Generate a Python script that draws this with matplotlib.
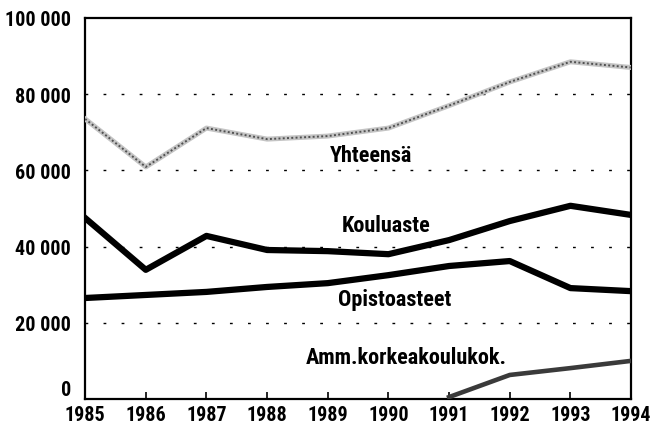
import matplotlib
matplotlib.use("Agg")
import matplotlib.pyplot as plt

years = [1985, 1986, 1987, 1988, 1989, 1990, 1991, 1992, 1993, 1994]
yhteensa = [73500, 60900, 71100, 68200, 69000, 71100, 77000, 83200, 88500, 87000]
kouluaste = [47500, 33900, 42800, 39100, 38800, 38000, 41700, 46700, 50700, 48300]
opistoasteet = [26500, 27300, 28100, 29400, 30400, 32500, 34900, 36200, 29100, 28300]
amm_years = [1991, 1992, 1993, 1994]
amm = [500, 6300, 8100, 10000]
y_ticks = [0, 20000, 40000, 60000, 80000, 100000]

plt.rcParams['font.family'] = ['Roboto Condensed', 'DejaVu Sans']
plt.rcParams['font.weight'] = 'bold'
FS = 16
TFS = 14.5

fig = plt.figure(figsize=(6.65, 4.31), dpi=100)
ax = fig.add_axes([0.128, 0.072, 0.821, 0.884])

# dotted grid lines
for v in y_ticks[1:-1]:
    ax.axhline(v, color='black', lw=1.0, ls=(0, (2, 11)), zorder=1)

# speckled grey total line
ax.plot(years, yhteensa, color='#c4c4c4', lw=3.6, zorder=3)
ax.plot(years, yhteensa, color='#505050', lw=1.4, ls=(0, (1, 1.2)), zorder=3)
ax.plot(years, kouluaste, color='black', lw=4.5, zorder=3)
ax.plot(years, opistoasteet, color='black', lw=4.5, zorder=3)
ax.plot(amm_years, amm, color='#3a3a3a', lw=3.3, zorder=3)

ax.text(1989.71, 64000, 'Yhteensä', fontsize=FS, ha='center', va='center')
ax.text(1989.97, 45700, 'Kouluaste', fontsize=FS, ha='center', va='center')
ax.text(1990.11, 26200, 'Opistoasteet', fontsize=FS, ha='center', va='center')
ax.text(1990.29, 11000, 'Amm.korkeakoulukok.', fontsize=FS, ha='center', va='center')

ax.set_xlim(1985, 1994)
ax.set_ylim(0, 100000)
ax.set_xticks(years)
ax.set_yticks(y_ticks)
ax.set_yticklabels([f"{v:,}".replace(",", " ") for v in y_ticks])
ax.tick_params(axis='x', direction='in', length=5, width=1.2, labelsize=TFS, pad=4.5)
ax.tick_params(axis='y', length=0, labelsize=TFS, pad=10)
# lift the "0" a bit so it clears "1985"
ax.get_yticklabels()[0].set_verticalalignment('bottom')
for s in ax.spines.values():
    s.set_linewidth(1.6)

fig.savefig('out.png', dpi=100)
